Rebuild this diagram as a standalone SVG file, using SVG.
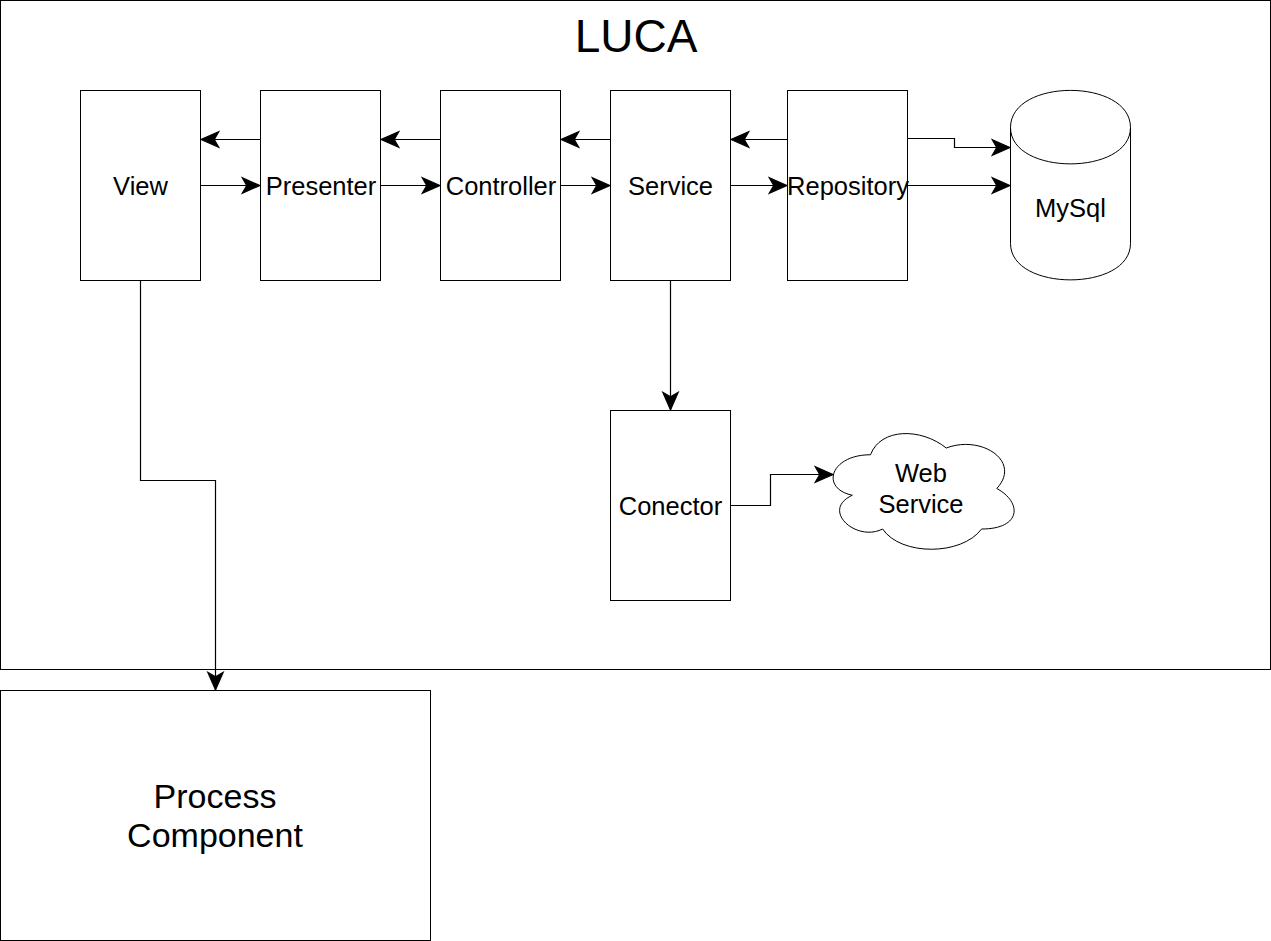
<svg xmlns="http://www.w3.org/2000/svg" width="1271" height="941" viewBox="0 0 1271 941">
<style>
.box{fill:#fff;stroke:#000;stroke-width:1}
.lbl{font-family:"Liberation Sans",Arial,sans-serif;font-size:25.5px;fill:#000;text-anchor:middle}
.edge{fill:none;stroke:#000;stroke-width:1.2;marker-end:url(#arr)}
</style>
<defs>
<marker id="arr" markerUnits="userSpaceOnUse" markerWidth="20" markerHeight="20" viewBox="-17 -8 18 16" refX="0" refY="0" orient="auto">
<path d="M0,0 L-16,-7 L-12,0 L-16,7 Z" fill="#000" stroke="#000" stroke-width="1"/>
</marker>
</defs>
<rect x="0" y="0" width="1271" height="941" fill="#fff"/>
<g id="luca">
<rect class="box" x="0.5" y="0.5" width="1270" height="669"/>
<text class="lbl" x="636" y="52" style="font-size:46px">LUCA</text>
</g>
<g id="view"><rect class="box" x="80.5" y="90.5" width="120" height="190"/><text class="lbl" x="140.5" y="195">View</text></g>
<g id="presenter"><rect class="box" x="260.5" y="90.5" width="120" height="190"/><text class="lbl" x="321" y="195">Presenter</text></g>
<g id="controller"><rect class="box" x="440.5" y="90.5" width="120" height="190"/><text class="lbl" x="501" y="195">Controller</text></g>
<g id="service"><rect class="box" x="610.5" y="90.5" width="120" height="190"/><text class="lbl" x="670.5" y="195">Service</text></g>
<g id="repository"><rect class="box" x="787.5" y="90.5" width="120" height="190"/><text class="lbl" x="848" y="195">Repository</text></g>
<g id="mysql">
<path class="box" d="M1010.5,127.5 C1010.5,78 1130.5,78 1130.5,127.5 L1130.5,243.5 C1130.5,292 1010.5,292 1010.5,243.5 Z"/>
<path class="box" style="fill:none" d="M1010.5,127.5 C1010.5,176 1130.5,176 1130.5,127.5"/>
<text class="lbl" x="1070.5" y="217">MySql</text>
</g>
<g id="conector"><rect class="box" x="610.5" y="410.5" width="120" height="190"/><text class="lbl" x="670.5" y="515">Conector</text></g>
<g id="webservice">
<path class="box" d="M870.5,454.75 C830.1,454.75 820,488.5 852.3,495.25 C820,510.1 856.4,542.5 882.6,529 C900.8,556 961.4,556 981.6,529 C1022,529 1022,502 996.75,488.5 C1022,461.5 981.6,434.5 946.25,448 C921,427.75 880.6,427.75 870.5,454.75 Z"/>
<text class="lbl" x="921" y="482">Web</text>
<text class="lbl" x="921" y="513">Service</text>
</g>
<g id="process">
<rect class="box" x="0.5" y="690.5" width="430" height="250"/>
<text class="lbl" x="215" y="808" style="font-size:34px">Process</text>
<text class="lbl" x="215" y="847" style="font-size:34px">Component</text>
</g>
<g id="connectors">
<path class="edge" d="M260.5,139.5 L201,139.5"/>
<path class="edge" d="M200.5,185.5 L260,185.5"/>
<path class="edge" d="M440.5,139.5 L381,139.5"/>
<path class="edge" d="M380.5,185.5 L440,185.5"/>
<path class="edge" d="M610.5,139.5 L561,139.5"/>
<path class="edge" d="M560.5,185.5 L610,185.5"/>
<path class="edge" d="M787.5,139.5 L731,139.5"/>
<path class="edge" d="M730.5,185.5 L787,185.5"/>
<path class="edge" d="M907.5,138.5 L954.5,138.5 L954.5,147.5 L1010,147.5"/>
<path class="edge" d="M907.5,185.5 L1010,185.5"/>
<path class="edge" d="M670.5,280.5 L670.5,410"/>
<path class="edge" d="M730.5,505.5 L770.5,505.5 L770.5,474.5 L833,474.5"/>
<path class="edge" d="M140.5,280.5 L140.5,480.5 L215.5,480.5 L215.5,690"/>
</g>
</svg>
